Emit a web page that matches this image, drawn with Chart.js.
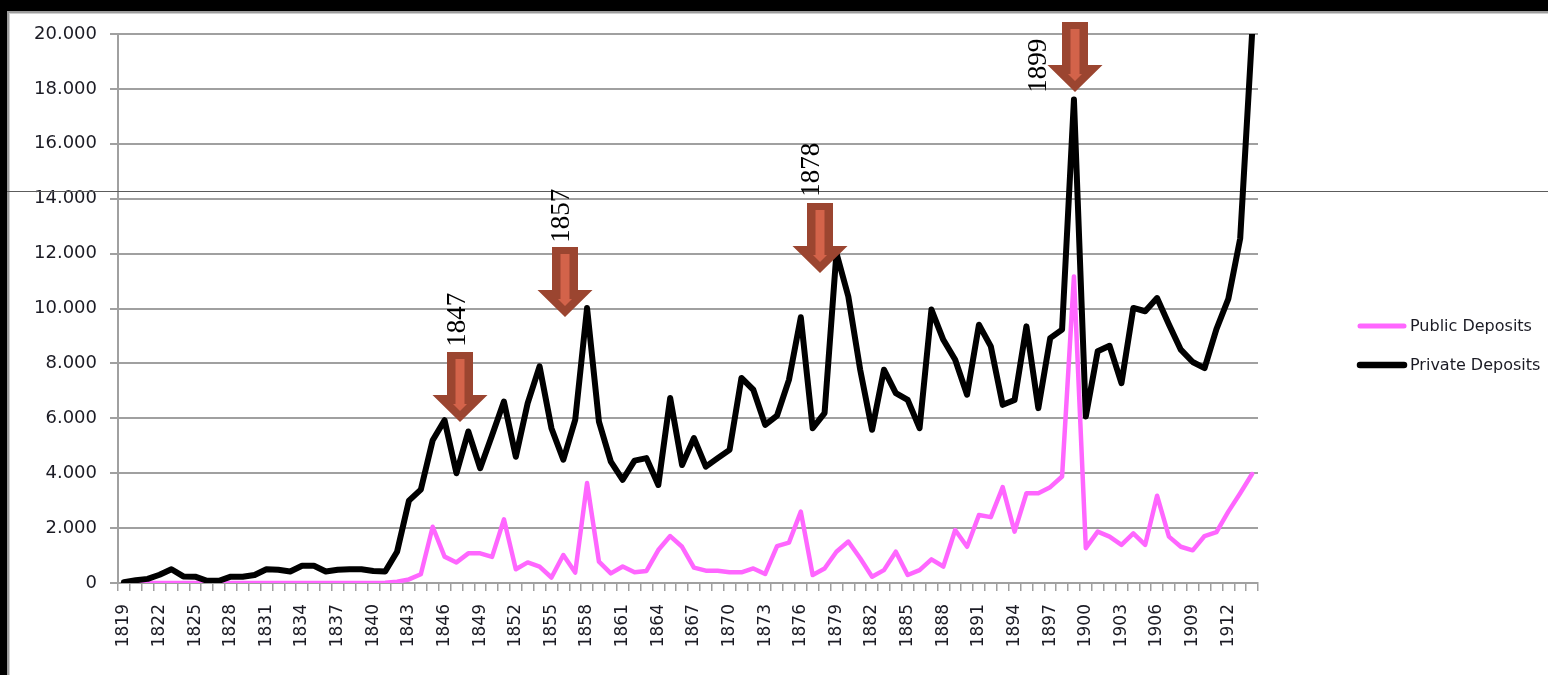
<!DOCTYPE html>
<html>
<head>
<meta charset="utf-8">
<title>Public and Private Deposits 1819–1914</title>
<script src="https://cdn.jsdelivr.net/npm/chart.js@4/dist/chart.umd.min.js"></script>
<style>
  html, body { margin: 0; padding: 0; background: #000; }
  canvas { display: block; }
</style>
</head>
<body>
<canvas id="chart" width="1548" height="675"></canvas>
<script>
// Years on the horizontal axis
const years = [
  '1819','1820','1821','1822','1823','1824','1825','1826','1827','1828',
  '1829','1830','1831','1832','1833','1834','1835','1836','1837','1838',
  '1839','1840','1841','1842','1843','1844','1845','1846','1847','1848',
  '1849','1850','1851','1852','1853','1854','1855','1856','1857','1858',
  '1859','1860','1861','1862','1863','1864','1865','1866','1867','1868',
  '1869','1870','1871','1872','1873','1874','1875','1876','1877','1878',
  '1879','1880','1881','1882','1883','1884','1885','1886','1887','1888',
  '1889','1890','1891','1892','1893','1894','1895','1896','1897','1898',
  '1899','1900','1901','1902','1903','1904','1905','1906','1907','1908',
  '1909','1910','1911','1912','1913','1914'
];

// Public deposits per year
const publicDeposits = [
  0, 0, 0, 0, 0, 0, 0, 0, 0, 0,
  0, 0, 0, 0, 0, 0, 0, 0, 0, 0,
  0, 0, 10, 50, 130, 320, 2050, 960, 750, 1080,
  1080, 950, 2320, 500, 750, 600, 200, 1020, 380, 3640,
  780, 350, 600, 390, 440, 1200, 1710, 1320, 560, 450,
  450, 390, 390, 530, 330, 1340, 1470, 2600, 290, 530,
  1140, 1510, 900, 230, 470, 1140, 290, 470, 860, 600,
  1930, 1320, 2480, 2400, 3490, 1870, 3270, 3270, 3490, 3880,
  11170, 1270, 1870, 1690, 1390, 1810, 1390, 3180, 1690, 1320,
  1190, 1710, 1850, 2600, 3270, 3970
];

// Private deposits per year
const privateDeposits = [
  30, 100, 150, 300, 500, 240, 230, 80, 80, 230,
  230, 290, 500, 480, 420, 630, 630, 420, 480, 500,
  500, 440, 420, 1140, 3000, 3400, 5200, 5930, 4000, 5520,
  4180, 5380, 6610, 4600, 6550, 7890, 5640, 4490, 5940, 10020,
  5880, 4420, 3760, 4460, 4550, 3570, 6740, 4300, 5280, 4240,
  4550, 4850, 7470, 7040, 5760, 6100, 7400, 9680, 5640, 6190,
  12020, 10440, 7770, 5580, 7770, 6920, 6670, 5640, 9960, 8860,
  8130, 6860, 9410, 8620, 6490, 6670, 9350, 6370, 8920, 9230,
  17610, 6070, 8440, 8640, 7280, 10020, 9900, 10380, 9420, 8500,
  8050, 7830, 9250, 10350, 12550, 20000
];

// Value-axis ticks
const yTicks = [0, 2000, 4000, 6000, 8000, 10000, 12000, 14000, 16000, 18000, 20000];

// Crisis markers: year text, category position of the arrow and value at its tip
const crisisYears = ['1847', '1857', '1878', '1899'];
const crisisAt = [28.3, 37.15, 58.6, 80.1];
const crisisTip = [5870, 9700, 11300, 17900];

const PINK = '#ff66ff';
const GRID = '#a0a0a0';
const TEXT = '#1b1b24';

function fmt(v) {
  return String(v).replace(/\B(?=(\d{3})+(?!\d))/g, '.');
}

// White slide area with a dark frame at the top and the left
const framePlugin = {
  id: 'frame',
  beforeDraw(chart) {
    const ctx = chart.ctx;
    const w = chart.width, h = chart.height;
    ctx.save();
    ctx.fillStyle = '#ffffff';
    ctx.fillRect(0, 0, w, h);
    ctx.fillStyle = '#000000';
    ctx.fillRect(0, 0, w, 11);
    ctx.fillRect(0, 0, 7, h);
    ctx.fillStyle = '#9c9c9c';
    ctx.fillRect(7, 11, w - 7, 2);
    ctx.fillRect(7, 11, 2, h - 11);
    ctx.fillStyle = '#cfcfcf';
    ctx.fillRect(9, 13, w - 9, 1);
    ctx.fillRect(9, 13, 1, h - 13);
    ctx.restore();
  },
  beforeDatasetsDraw(chart) {
    // thin rule across the slide
    const ctx = chart.ctx;
    ctx.save();
    ctx.fillStyle = '#5c5c5c';
    ctx.fillRect(7, 191, chart.width - 7, 1);
    ctx.restore();
  }
};

// Down arrows with the crisis year written beside them
const labelOffsets = [[-2, -75], [-3, -74], [-8, -76], [-36, 1]];
function drawArrow(ctx, cx, tipY) {
  const shaftW = 26, shaftH = 43, headW = 55, headH = 27;
  const headTop = tipY - headH;
  const top = headTop - shaftH;
  ctx.beginPath();
  ctx.moveTo(cx - shaftW / 2, top);
  ctx.lineTo(cx + shaftW / 2, top);
  ctx.lineTo(cx + shaftW / 2, headTop);
  ctx.lineTo(cx + headW / 2, headTop);
  ctx.lineTo(cx, tipY);
  ctx.lineTo(cx - headW / 2, headTop);
  ctx.lineTo(cx - shaftW / 2, headTop);
  ctx.closePath();
  ctx.fillStyle = '#9b4530';
  ctx.fill();
  // lighter core of the arrow
  const iw = 9;
  ctx.beginPath();
  ctx.moveTo(cx - iw / 2, top + 7);
  ctx.lineTo(cx + iw / 2, top + 7);
  ctx.lineTo(cx + iw / 2, headTop + 9);
  ctx.lineTo(cx + 7, headTop + 9);
  ctx.lineTo(cx, headTop + 16);
  ctx.lineTo(cx - 7, headTop + 9);
  ctx.lineTo(cx - iw / 2, headTop + 9);
  ctx.closePath();
  ctx.fillStyle = '#d3634a';
  ctx.fill();
}
const crisisPlugin = {
  id: 'crisis',
  afterDatasetsDraw(chart) {
    const ctx = chart.ctx;
    const xs = chart.scales.x, ys = chart.scales.y;
    ctx.save();
    crisisYears.forEach((txt, i) => {
      const cx = xs.getPixelForValue(crisisAt[i]);
      const tipY = ys.getPixelForValue(crisisTip[i]);
      drawArrow(ctx, Math.round(cx), Math.round(tipY));
      const [dx, dy] = labelOffsets[i];
      ctx.save();
      ctx.translate(cx + dx, tipY + dy);
      ctx.rotate(-Math.PI / 2);
      ctx.font = '27px "Liberation Serif", "DejaVu Serif", serif';
      ctx.fillStyle = '#000000';
      ctx.textAlign = 'left';
      ctx.textBaseline = 'middle';
      ctx.fillText(txt, 0, 0);
      ctx.restore();
    });
    ctx.restore();
  }
};

// Legend to the right of the plot
const legendPlugin = {
  id: 'sideLegend',
  afterDraw(chart) {
    const ctx = chart.ctx;
    const items = chart.data.datasets.map(d => ({ text: d.label, color: d.borderColor, width: d.borderWidth }));
    const rows = [326, 365];
    ctx.save();
    ctx.font = '16px "DejaVu Sans", sans-serif';
    ctx.textBaseline = 'middle';
    ctx.textAlign = 'left';
    items.forEach((it, i) => {
      const y = rows[i];
      ctx.strokeStyle = it.color;
      ctx.lineWidth = it.width + 0.5;
      ctx.lineCap = 'round';
      ctx.beginPath();
      ctx.moveTo(1360, y);
      ctx.lineTo(1404, y);
      ctx.stroke();
      ctx.fillStyle = TEXT;
      ctx.fillText(it.text, 1410, y + 1);
    });
    ctx.restore();
  }
};

new Chart(document.getElementById('chart'), {
  type: 'line',
  data: {
    labels: years,
    datasets: [
      {
        label: 'Public Deposits',
        data: publicDeposits,
        borderColor: PINK,
        backgroundColor: PINK,
        borderWidth: 4.5,
        pointRadius: 0,
        tension: 0,
        borderJoinStyle: 'round',
        borderCapStyle: 'round',
        order: 1
      },
      {
        label: 'Private Deposits',
        data: privateDeposits,
        borderColor: '#000000',
        backgroundColor: '#000000',
        borderWidth: 6,
        pointRadius: 0,
        tension: 0,
        borderJoinStyle: 'round',
        borderCapStyle: 'round',
        order: 0
      }
    ]
  },
  options: {
    responsive: false,
    animation: false,
    events: [],
    layout: { padding: { left: 0, right: 290, top: 34, bottom: 0 } },
    plugins: {
      legend: { display: false },
      tooltip: { enabled: false }
    },
    scales: {
      x: {
        type: 'category',
        offset: true,
        grid: {
          display: true,
          offset: true,
          drawOnChartArea: false,
          drawTicks: true,
          tickLength: 8,
          color: GRID,
          lineWidth: 1.5
        },
        border: { display: true, color: GRID, width: 2 },
        ticks: {
          autoSkip: false,
          minRotation: 90,
          maxRotation: 90,
          padding: 13,
          color: TEXT,
          font: { family: '"DejaVu Sans", sans-serif', size: 17 },
          callback: function (value, index) {
            return index % 3 === 0 ? this.getLabelForValue(value) : '';
          }
        },
        afterFit(scale) { scale.height = 92; }
      },
      y: {
        min: 0,
        max: 20000,
        afterBuildTicks(scale) { scale.ticks = yTicks.map(v => ({ value: v })); },
        grid: {
          color: GRID,
          lineWidth: 2,
          tickLength: 8,
          drawTicks: true
        },
        border: { display: true, color: GRID, width: 2 },
        ticks: {
          padding: 13,
          color: TEXT,
          font: { family: '"DejaVu Sans", sans-serif', size: 18 },
          callback: v => fmt(v)
        },
        afterFit(scale) { scale.width = 118; }
      }
    }
  },
  plugins: [framePlugin, crisisPlugin, legendPlugin]
});
</script>
</body>
</html>
